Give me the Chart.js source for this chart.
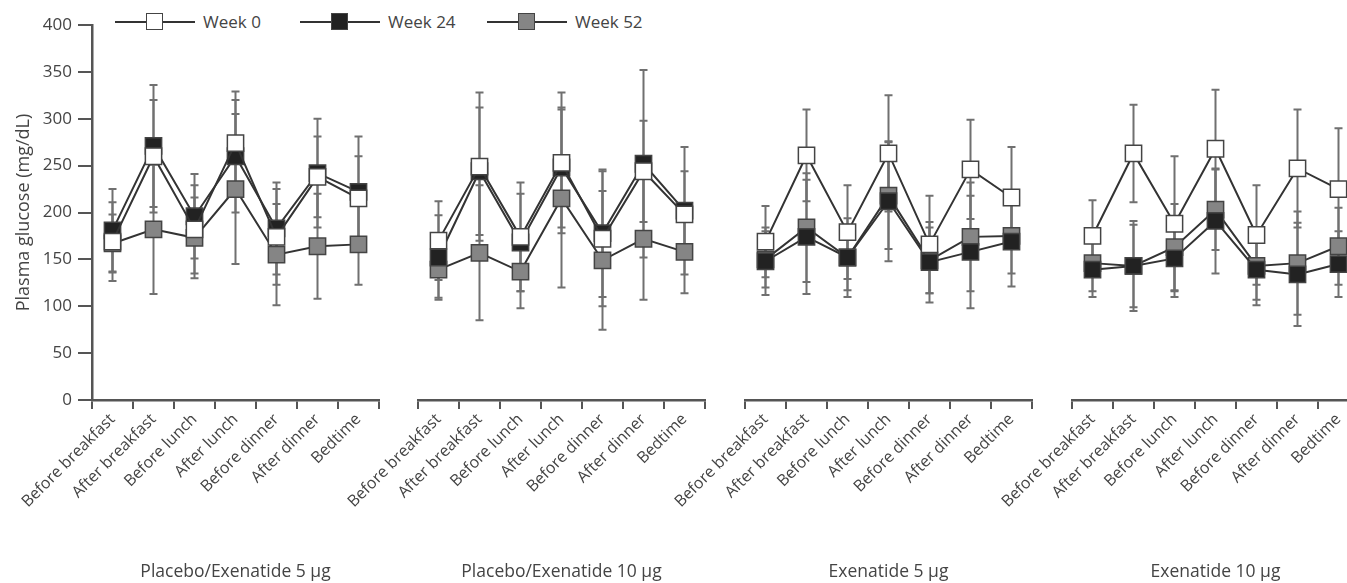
<!DOCTYPE html>
<html>
<head>
<meta charset="utf-8">
<script src="https://cdn.jsdelivr.net/npm/chart.js@4.4.1/dist/chart.umd.min.js"></script>
<style>
  html, body { margin: 0; padding: 0; background: #fff; }
  body { width: 1347px; height: 583px; overflow: hidden; position: relative; font-family: "Open Sans", sans-serif; color: #444; }
  canvas { position: absolute; top: 0; }
  .legend-item { position: absolute; top: 10px; height: 24px; }
  .legend-line { position: absolute; left: 0; width: 80px; top: 11px; height: 2px; background: #333; }
  .legend-box { position: absolute; left: 31px; top: 3px; width: 15px; height: 15px; border: 1.5px solid #444; }
  .legend-text { position: absolute; left: 88px; top: 0; font-size: 17px; line-height: 24px; white-space: nowrap; color: #444; }
</style>
</head>
<body>
<div id="legend"></div>
<canvas id="p0" width="404" height="583" style="left:0px"></canvas>
<canvas id="p1" width="422" height="583" style="left:308px"></canvas>
<canvas id="p2" width="422" height="583" style="left:635px"></canvas>
<canvas id="p3" width="422" height="583" style="left:962px"></canvas>
<script>
// Data (mg/dL), one row per panel
const categories = ['Before breakfast', 'After breakfast', 'Before lunch', 'After lunch', 'Before dinner', 'After dinner', 'Bedtime'];
const panelTitles = ['Placebo/Exenatide 5 \u03bcg', 'Placebo/Exenatide 10 \u03bcg', 'Exenatide 5 \u03bcg', 'Exenatide 10 \u03bcg'];
const seriesNames = ['Week 0', 'Week 24', 'Week 52'];
const yTicks = [0, 50, 100, 150, 200, 250, 300, 350, 400];

const week0 = [
  [169, 260, 182, 274, 174, 238, 215],
  [170, 249, 174, 253, 172, 244, 198],
  [169, 261, 179, 263, 166, 246, 216],
  [175, 263, 188, 268, 176, 247, 225]
];
const week24 = [
  [181, 271, 196, 260, 183, 242, 222],
  [152, 244, 168, 248, 178, 252, 202],
  [148, 174, 152, 212, 147, 158, 169],
  [139, 143, 151, 191, 139, 134, 145]
];
const week52 = [
  [167, 182, 173, 225, 155, 164, 166],
  [139, 157, 137, 215, 149, 172, 158],
  [150, 184, 152, 218, 149, 174, 175],
  [146, 143, 163, 203, 143, 146, 164]
];
// standard deviations
const week0Sd = [
  [42, 60, 47, 55, 51, 43, 45],
  [42, 79, 58, 75, 72, 54, 46],
  [38, 49, 50, 62, 52, 53, 54],
  [38, 52, 72, 63, 53, 63, 65]
];
const week24Sd = [
  [44, 65, 45, 60, 49, 58, 59],
  [45, 68, 52, 64, 68, 100, 68],
  [36, 61, 42, 64, 43, 60, 48],
  [29, 44, 41, 56, 38, 55, 35]
];
const week52Sd = [
  [31, 69, 43, 80, 54, 56, 43],
  [30, 72, 39, 95, 74, 65, 44],
  [30, 58, 35, 57, 35, 58, 40],
  [30, 48, 46, 43, 36, 55, 41]
];

const fills = ['#ffffff', '#222222', '#858585'];
const FONT = "'Open Sans', sans-serif";

// legend (line + square marker + label)
const legendLeft = [115, 300, 487];
const legend = document.getElementById('legend');
seriesNames.forEach((name, i) => {
  const item = document.createElement('div');
  item.className = 'legend-item';
  item.style.left = legendLeft[i] + 'px';
  item.innerHTML = '<div class="legend-line"></div><div class="legend-box" style="background:' + fills[i] + '"></div><div class="legend-text">' + name + '</div>';
  legend.appendChild(item);
});

// error bars drawn behind the markers
const errorBars = {
  id: 'errorBars',
  beforeDatasetsDraw(chart) {
    const ctx = chart.ctx;
    const y = chart.scales.y;
    ctx.save();
    ctx.strokeStyle = '#707070';
    ctx.lineWidth = 2;
    chart.data.datasets.forEach((ds, i) => {
      const meta = chart.getDatasetMeta(i);
      meta.data.forEach((pt, j) => {
        const hi = y.getPixelForValue(ds.data[j] + ds.errors[j]);
        const lo = y.getPixelForValue(ds.data[j] - ds.errors[j]);
        ctx.beginPath();
        ctx.moveTo(pt.x, hi); ctx.lineTo(pt.x, lo);
        ctx.moveTo(pt.x - 4, hi); ctx.lineTo(pt.x + 4, hi);
        ctx.moveTo(pt.x - 4, lo); ctx.lineTo(pt.x + 4, lo);
        ctx.stroke();
      });
    });
    ctx.restore();
  }
};

function makePanel(id, p) {
  const showY = p === 0;
  const series = [week0[p], week24[p], week52[p]];
  const sds = [week0Sd[p], week24Sd[p], week52Sd[p]];
  new Chart(document.getElementById(id), {
    type: 'line',
    data: {
      labels: categories,
      datasets: series.map((vals, i) => ({
        label: seriesNames[i],
        data: vals,
        errors: sds[i],
        borderColor: '#333',
        borderWidth: 2,
        pointStyle: 'rect',
        pointRadius: 11.5,
        pointHoverRadius: 11.5,
        pointBackgroundColor: fills[i],
        pointBorderColor: '#444',
        pointBorderWidth: 1.5,
        tension: 0,
        clip: false
      }))
    },
    options: {
      responsive: false,
      animation: false,
      events: [],
      layout: { padding: { top: 25, left: showY ? 0 : 110, right: 25, bottom: 0 } },
      plugins: { legend: { display: false }, tooltip: { enabled: false } },
      scales: {
        x: {
          type: 'category',
          offset: true,
          grid: { offset: true, drawOnChartArea: false, tickLength: 9, color: '#555', lineWidth: 2 },
          border: { color: '#555', width: 2.5 },
          ticks: { autoSkip: false, minRotation: 45, maxRotation: 45, padding: 1, color: '#444', font: { family: FONT, size: 16 } },
          title: { display: true, text: panelTitles[p], color: '#444', font: { family: FONT, size: 17.5 }, padding: { top: 0, bottom: 0 } },
          afterFit: s => { s.height = 183; s.paddingLeft = 0; s.paddingRight = 0; }
        },
        y: {
          display: showY,
          min: 0,
          max: 400,
          afterBuildTicks: s => { s.ticks = yTicks.map(v => ({ value: v })); },
          grid: { drawOnChartArea: false, tickLength: 14, color: '#555', lineWidth: 2 },
          border: { color: '#555', width: 2.5 },
          ticks: { padding: 6, color: '#444', font: { family: FONT, size: 17 } },
          title: { display: true, text: 'Plasma glucose (mg/dL)', color: '#444', font: { family: FONT, size: 18 }, padding: { top: 13 } },
          afterFit: s => { if (showY) s.width = 92; }
        }
      }
    },
    plugins: [errorBars]
  });
}

['p0', 'p1', 'p2', 'p3'].forEach((id, p) => makePanel(id, p));
</script>
</body>
</html>
